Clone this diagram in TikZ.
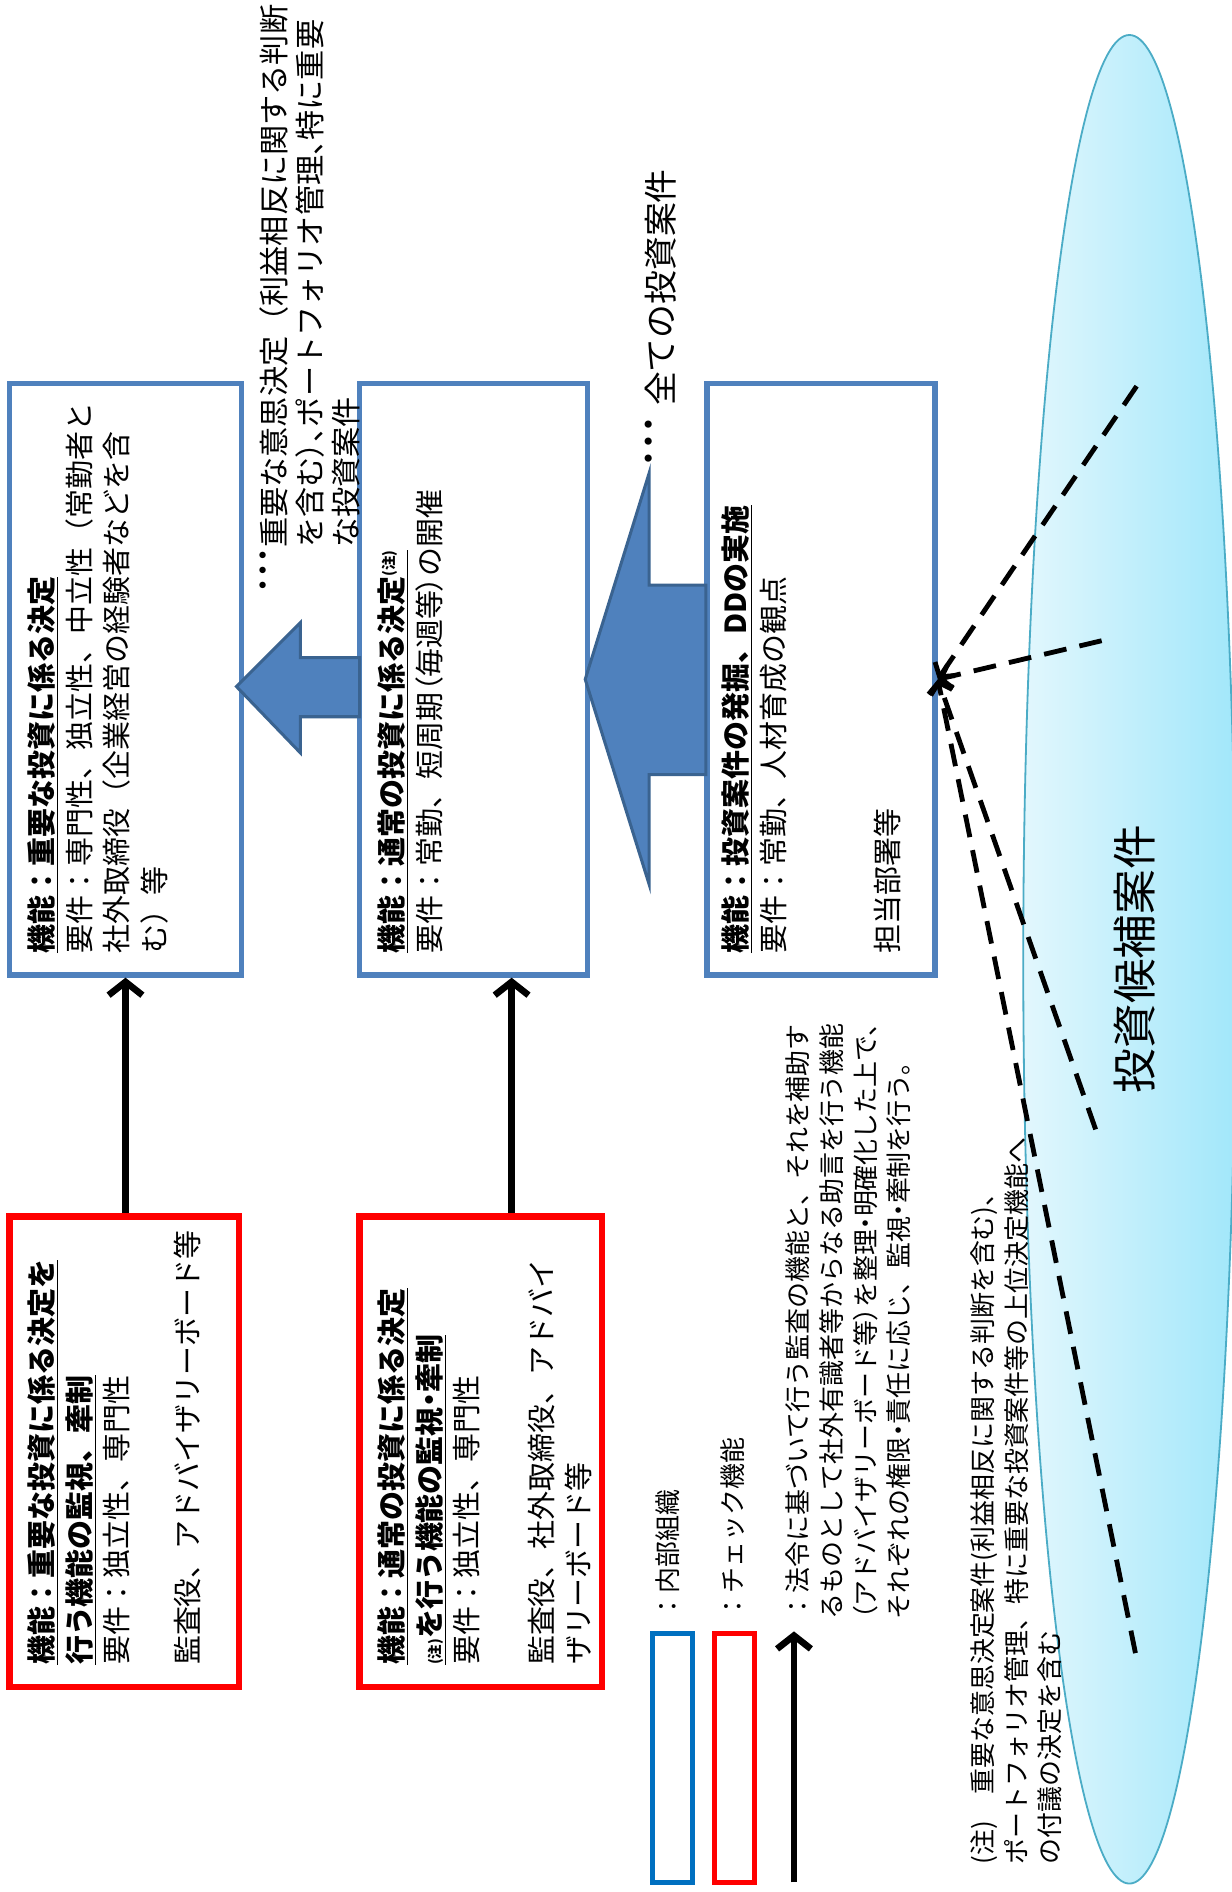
\documentclass[tikz,border=0pt]{standalone}
\usepackage{fontspec}
\setmainfont{Noto Sans CJK JP}
\newfontfamily\pfont{Noto Sans CJK JP}[RawFeature=+palt]
\usetikzlibrary{arrows.meta,shapes.geometric}
\definecolor{boxblue}{HTML}{4F81BD}
\definecolor{arrborder}{HTML}{3A6390}
\definecolor{legblue}{HTML}{0070C0}
\definecolor{ellborder}{HTML}{4BACC6}
\definecolor{ellleft}{HTML}{E2F7FD}
\definecolor{ellright}{HTML}{A2E7FA}
\tikzset{
  bluebox/.style={draw=boxblue, line width=4.5, fill=white, inner sep=0},
  redbox/.style={draw=red, line width=5.5, fill=white, inner sep=0},
  legbox/.style={line width=4, inner sep=0, minimum width=33, minimum height=206},
  blockarrow/.style={fill=boxblue, draw=arrborder, line width=2.5, line join=miter},
  blk/.style={line width=5.5, -{Straight Barb[length=11, width=28]}},
  dashline/.style={line width=4, dash pattern=on 19 off 11, -{Straight Barb[length=8, width=20]}},
  txt/.style={rotate=90, anchor=north west, align=left, inner sep=0pt, font=\fontsize{24}{31}\selectfont},
  lbltxt/.style={txt, font=\fontsize{25}{30}\selectfont},
  smalltxt/.style={txt, font=\fontsize{21.5}{28}\selectfont},
}
\newcommand{\chu}{{\fontsize{12}{12}\selectfont\raisebox{7pt}{(注)}}}
\newcommand{\chuB}{{\fontsize{12}{12}\selectfont(注)}}
\newcommand{\pp}[1]{{\pfont #1}}
\begin{document}
\begin{tikzpicture}[x=1pt,y=1pt]
\useasboundingbox (0,0) rectangle (1021,-1568);
\fill[white] (0,0) rectangle (1021,-1568);

% ellipse of candidates
\node[ellipse, draw=ellborder, line width=1.5, left color=ellleft, right color=ellright,
      minimum width=176, minimum height=1532, inner sep=0] (ell) at (936,-795) {};
\node[rotate=90, inner sep=0, font=\fontsize{37}{44}\selectfont] (elltxt) at (940,-795) {投資候補案件};

% internal organisation boxes
\node[bluebox, minimum width=192, minimum height=490] (b1) at (104,-563) {};
\node[bluebox, minimum width=189, minimum height=490] (b2) at (392.5,-563) {};
\node[bluebox, minimum width=189, minimum height=490] (b3) at (680.5,-563) {};

% check function boxes
\node[redbox, minimum width=190, minimum height=390] (r1) at (103,-1203) {};
\node[redbox, minimum width=201, minimum height=390] (r2) at (398.5,-1203) {};

% block arrows
\draw[blockarrow] (298,-545) -- (249,-545) -- (249,-516) -- (196,-569) -- (249,-624) -- (249,-594) -- (298,-594) -- cycle;
\draw[blockarrow] (585,-485) -- (538,-485) -- (538,-392) -- (485,-563) -- (538,-733) -- (538,-642) -- (585,-642) -- cycle;

% black arrows from check boxes
\coordinate (a2x) at (424,0);
\draw[blk] ([xshift=1]r1.north) -- ([xshift=1]r1.north |- b1.south);
\draw[blk] (r2.north -| a2x) -- (b2.south -| a2x);

% dashed lines from candidates
\coordinate (d1) at (942,-320);
\coordinate (d2) at (913,-531);
\coordinate (d3) at (908,-936);
\coordinate (d4) at (941,-1370);
\draw[dashline] (d1) -- (b3.east);
\draw[dashline] (d2) -- (b3.east);
\draw[dashline] (d3) -- (b3.east);
\draw[dashline] (d4) -- (b3.east);

% box texts
\node[txt] (t1) at (23,-790) {{\bfseries\underline{機能：重要な投資に係る決定}}\\
要件：専門性、独立性、中立性（常勤者と\\
社外取締役（企業経営の経験者などを含\\
む）等};
\node[txt] (t2) at (313,-790) {{\bfseries\underline{機能：通常の投資に係る決定\chu}}\\
要件：常勤、短周期\pp{（}毎週等\pp{）}の開催};
\node[txt] (t3) at (598,-790) {{\bfseries\underline{機能：投資案件の発掘、DDの実施}}\\
要件：常勤、人材育成の観点\\[64pt]
担当部署等};
\node[txt] (t4) at (23,-1380) {{\bfseries\underline{機能：重要な投資に係る決定を}}\\
{\bfseries\underline{行う機能の監視、牽制}}\\
要件：独立性、専門性\\[28pt]
監査役、アドバイザリーボード等};
\node[txt] (t5) at (313,-1380) {{\bfseries\underline{機能：通常の投資に係る決定}}\\
{\bfseries\underline{\chuB を行う機能の監視\pp{・}牽制}}\\
要件：独立性、専門性\\[31pt]
監査役、社外取締役、アドバイ\\
ザリーボード等};

% upper labels
\node[lbltxt] (dots1) at (215,-492) {\pfont ・・・};
\node[lbltxt, anchor=north west] (lbl1) at (dots1.north east) {重要な意思決定（利益相反に関する判断\\
を含む\pp{）、}ポートフォリオ管理\pp{、}特に重要\\
な投資案件};
\node[txt, font=\fontsize{28}{34}\selectfont] (dots2) at (534,-387) {\pfont ・・・};
\node[txt, font=\fontsize{28}{34}\selectfont, anchor=north west] (lbl2) at ([yshift=8]dots2.north east) {全ての投資案件};

% legend
\node[legbox, draw=legblue] (lgb) at (557.5,-1457) {};
\node[legbox, draw=red] (lgr) at (608.5,-1457) {};
\coordinate (la1) at (658,-1560);
\coordinate (la2) at (658,-1352);
\draw[blk] (la1) -- (la2);
\node[smalltxt] (lt1) at (543,-1342) {：内部組織};
\node[smalltxt] (lt2) at (597,-1342) {：チェック機能};
\node[smalltxt] (lt3) at (651,-1342) {：法令に基づいて行う監査の機能と、それを補助す\\
るものとして社外有識者等からなる助言を行う機能\\
\pp{（}アドバイザリーボード等\pp{）}を整理\pp{・}明確化した上で、\\
それぞれの権限\pp{・}責任に応じ、監視\pp{・}牽制を行う。};

% note
\node[smalltxt] (note) at (804,-1545) {(注)　重要な意思決定案件(利益相反に関する判断を含む)、\\
ポートフォリオ管理、特に重要な投資案件等の上位決定機能へ\\
の付議の決定を含む};
\end{tikzpicture}
\end{document}
